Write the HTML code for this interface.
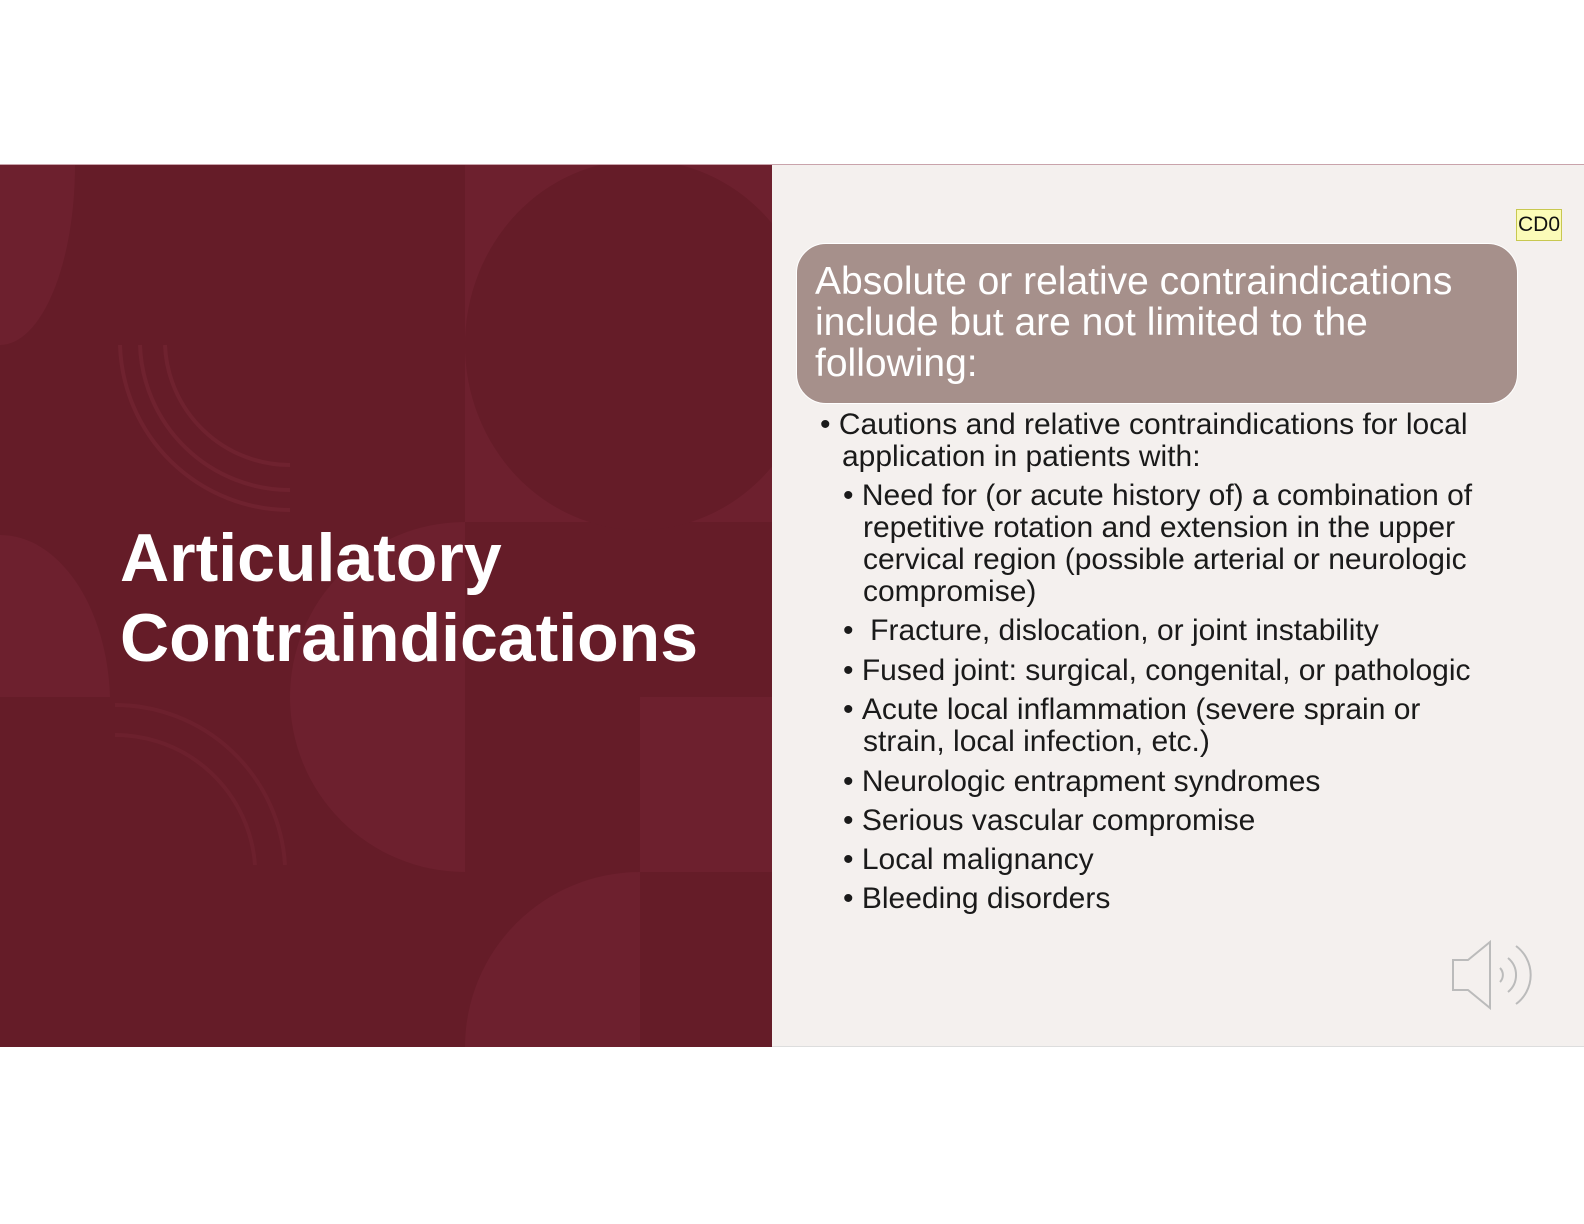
<!DOCTYPE html>
<html><head><meta charset="utf-8"><style>
body{margin:0;width:1584px;height:1224px;background:#fff;position:relative;overflow:hidden;font-family:"Liberation Sans",sans-serif}
.abs{position:absolute}
.t{position:absolute;white-space:nowrap;font-size:30px;color:#1a1a1a;line-height:32px}
</style></head><body>
<div class="abs" style="left:0;top:164px;width:1584px;height:1px;background:#c9a3ab"></div>
<div class="abs" style="left:0;top:165px;width:772px;height:882px;background:#651c28;overflow:hidden">
<svg width="772" height="882">
<g fill="#6d202e">
<path d="M0,0 H75 A75,180 0 0 1 0,180Z"/>
<rect x="465" y="0" width="307" height="357"/>
<ellipse cx="640" cy="180" rx="175" ry="185" fill="#651c28"/>
<path d="M0,370 A110,170 0 0 1 110,532 H0Z"/>
<path d="M465,357 A175,175 0 0 0 290,532 H465Z"/>
<path d="M290,532 H465 V707 A175,175 0 0 1 290,532Z"/>
<path d="M640,532 H772 V707 H640Z"/>
<path d="M465,882 A175,175 0 0 1 640,707 V882Z"/>
</g>
<g fill="none" stroke="#6f222f" stroke-width="4">
<path d="M120,180 A170,170 0 0 0 290,345"/><path d="M140,180 A150,150 0 0 0 290,325"/><path d="M165,180 A125,125 0 0 0 290,300"/>
<path d="M115,540 A170,170 0 0 1 285,700" opacity="0.7"/><path d="M115,570 A140,140 0 0 1 255,700" opacity="0.7"/>
</g>
</svg>
</div>
<div class="abs" style="left:772px;top:165px;width:812px;height:882px;background:#f4f0ee"></div>
<div class="abs" style="left:772px;top:1046px;width:812px;height:1px;background:#ddd"></div>
<div class="abs" style="left:120px;top:518px;color:#fff;font-weight:bold;font-size:68px;line-height:80px;white-space:nowrap">Articulatory<br>Contraindications</div>
<div class="abs" style="left:1516px;top:209px;width:44px;height:30px;background:#fbfbb8;border:1px solid #c8c850;font-size:21px;line-height:30px;text-align:center;color:#111">CD0</div>
<div class="abs" style="left:796px;top:243px;width:722px;height:161px;background:#a6908b;border-radius:30px;border:1px solid #fff;box-sizing:border-box"></div>
<div class="abs" style="left:815px;top:261px;color:#fff;font-size:39px;line-height:41px;white-space:nowrap">Absolute or relative contraindications<br>include but are not limited to the<br>following:</div>
<div>
<div class="t" style="left:820px;top:409px">•&nbsp;Cautions and relative contraindications for local<br><span style="padding-left:22px">application in patients with:</span></div>
<div class="t" style="left:843px;top:480px">•&nbsp;Need for (or acute history of) a combination of<br><span style="padding-left:20px">repetitive rotation and extension in the upper</span><br><span style="padding-left:20px">cervical region (possible arterial or neurologic</span><br><span style="padding-left:20px">compromise)</span></div>
<div class="t" style="left:843px;top:615px">•&nbsp; Fracture, dislocation, or joint instability</div>
<div class="t" style="left:843px;top:655px">•&nbsp;Fused joint: surgical, congenital, or pathologic</div>
<div class="t" style="left:843px;top:694px">•&nbsp;Acute local inflammation (severe sprain or<br><span style="padding-left:20px">strain, local infection, etc.)</span></div>
<div class="t" style="left:843px;top:766px">•&nbsp;Neurologic entrapment syndromes</div>
<div class="t" style="left:843px;top:805px">•&nbsp;Serious vascular compromise</div>
<div class="t" style="left:843px;top:844px">•&nbsp;Local malignancy</div>
<div class="t" style="left:843px;top:883px">•&nbsp;Bleeding disorders</div>
</div>
<svg class="abs" style="left:1448px;top:938px" width="94" height="74">
<path d="M5,22 H20 L42,4 V70 L20,52 H5Z" fill="#f4f0ee" stroke="#bbb" stroke-width="2"/>
<path d="M52,30 A10,10 0 0 1 52,44" fill="none" stroke="#bbb" stroke-width="2"/>
<path d="M60,20 A22,22 0 0 1 60,54" fill="none" stroke="#bbb" stroke-width="2"/>
<path d="M68,8 A36,36 0 0 1 68,66" fill="none" stroke="#bbb" stroke-width="2"/>
</svg>
</body></html>
